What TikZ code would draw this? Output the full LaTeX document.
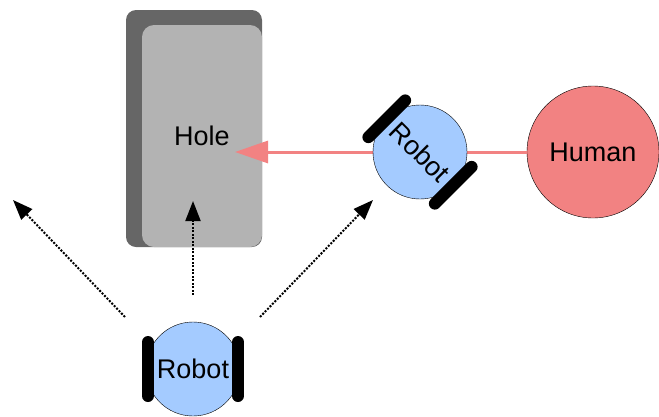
\documentclass[tikz,border=0pt]{standalone}
\usepackage{fontspec}
\setmainfont{Liberation Sans}
\usepackage{tikz}
\usetikzlibrary{arrows.meta}
\definecolor{HoleDark}{HTML}{666666}
\definecolor{HoleLight}{HTML}{B3B3B3}
\definecolor{RobotBlue}{HTML}{A4CBFF}
\definecolor{HumanRed}{HTML}{F28282}

\begin{document}
\begin{tikzpicture}[
  x=1pt,y=-1pt,
  font=\fontsize{27}{32}\selectfont,
  holeedge/.style={fill=HoleDark,rounded corners=10pt,minimum width=136pt,minimum height=237pt,inner sep=0pt},
  holefront/.style={fill=HoleLight,rounded corners=12pt,minimum width=120pt,minimum height=222pt,inner sep=0pt},
  robot/.style={circle,draw,fill=RobotBlue,minimum size=94pt,inner sep=0pt},
  human/.style={circle,draw,fill=HumanRed,minimum size=132pt,inner sep=0pt},
  wheel/.style={line width=12pt,line cap=round},
  push/.style={-{Triangle[length=33pt,width=22pt]},line width=3pt,HumanRed},
  move/.style={-{Triangle[length=20pt,width=15pt]},line width=2pt,dash pattern=on 2pt off 1.5pt}
]
\useasboundingbox (0,0) rectangle (659,416);
% the hole, with its darker rim on the top and left
\node[holeedge] (rim) at (194,128.5) {};
\node[holefront] (hole) at (202,136) {Hole};
\coordinate (holetip) at (235,152);
% free ends of the three dotted moves
\coordinate (lefttail) at (125,317);
\coordinate (lefttip) at (13,200);
\coordinate (midtail) at (193,295);
\coordinate (midtip) at (193,201);
\coordinate (righttail) at (260,317);
\coordinate (righttip) at (373,200);
\node[human] (human) at (593,152) {Human};
\draw[push] (human.west) -- (holetip);
% robot pushing towards the hole
\node[robot,rotate=-45] (pusher) at (420,152) {Robot};
\begin{scope}[shift={(pusher)},rotate=-45]
  \draw[wheel] (-47pt,-26pt) -- (-47pt,26pt);
  \draw[wheel] (47pt,-26pt) -- (47pt,26pt);
\end{scope}
% robot choosing a direction
\node[robot] (mover) at (193,369) {Robot};
\begin{scope}[shift={(mover)}]
  \draw[wheel] (-45pt,-27pt) -- (-45pt,27pt);
  \draw[wheel] (45pt,-27pt) -- (45pt,27pt);
\end{scope}
\draw[move] (lefttail) -- (lefttip);
\draw[move] (midtail) -- (midtip);
\draw[move] (righttail) -- (righttip);
\end{tikzpicture}
\end{document}
